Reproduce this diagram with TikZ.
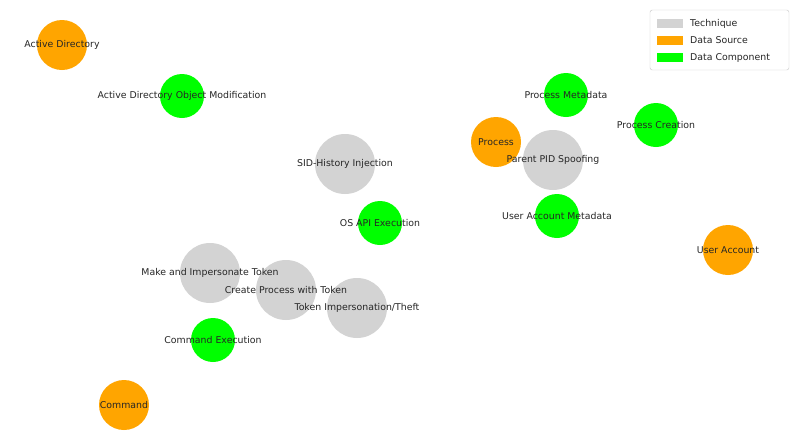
\documentclass[tikz,border=0pt]{standalone}
\usepackage{fontspec}
\setmainfont{DejaVu Sans}
\usetikzlibrary{backgrounds}
\definecolor{cgray}{RGB}{211,211,211}
\definecolor{corange}{RGB}{255,165,0}
\definecolor{cgreen}{RGB}{0,255,0}
\begin{document}
\begin{tikzpicture}[x=0.03cm,y=-0.03cm,
  tech/.style={circle,fill=cgray,minimum size=60*0.03cm,inner sep=0},
  src/.style={circle,fill=corange,minimum size=50*0.03cm,inner sep=0},
  comp/.style={circle,fill=cgreen,minimum size=44*0.03cm,inner sep=0},
  lab/.style={font=\fontsize{8}{9}\selectfont,text=black!85,inner sep=0},
  edge/.style={draw=black!70,line width=0.5pt}]
\useasboundingbox[fill=white] (0,0) rectangle (800,442);
\node[src] (ad) at (62,45) {};
\node[comp] (adom) at (182,96) {};
\node[tech] (sid) at (345,164) {};
\node[src] (proc) at (496,142) {};
\node[comp] (pmeta) at (566,95) {};
\node[tech] (ppid) at (553,160) {};
\node[comp] (pcre) at (656,125) {};
\node[comp] (uam) at (557,216) {};
\node[src] (ua) at (728,250) {};
\node[comp] (osapi) at (380,223) {};
\node[tech] (mit) at (210,273) {};
\node[tech] (cpt) at (286,290) {};
\node[tech] (tit) at (357,308) {};
\node[comp] (cexe) at (213,340) {};
\node[src] (cmd) at (124,405) {};
\begin{scope}[on background layer]
\foreach \a/\b in {ad/adom,adom/sid,sid/uam,uam/ua,proc/pmeta,proc/pcre,ppid/pmeta,ppid/pcre,ppid/osapi,proc/osapi,osapi/mit,osapi/cpt,osapi/tit,cexe/mit,cexe/cpt,cexe/tit,cmd/cexe}
  \draw[edge] (\a.center) -- (\b.center);
\end{scope}
\node[lab] (l1) at (ad) {Active Directory};
\node[lab] (l2) at (adom) {Active Directory Object Modification};
\node[lab] (l3) at (sid) {SID-History Injection};
\node[lab] (l4) at (proc) {Process};
\node[lab] (l5) at (pmeta) {Process Metadata};
\node[lab] (l6) at (ppid) {Parent PID Spoofing};
\node[lab] (l7) at (pcre) {Process Creation};
\node[lab] (l8) at (uam) {User Account Metadata};
\node[lab] (l9) at (ua) {User Account};
\node[lab] (l10) at (osapi) {OS API Execution};
\node[lab] (l11) at (mit) {Make and Impersonate Token};
\node[lab] (l12) at (cpt) {Create Process with Token};
\node[lab] (l13) at (tit) {Token Impersonation/Theft};
\node[lab] (l14) at (cexe) {Command Execution};
\node[lab] (l15) at (cmd) {Command};
% legend
\draw[draw=black!20,fill=white,rounded corners=2pt] (650,10) rectangle (789,70);
\fill[cgray] (657,19) rectangle (683,28);
\fill[corange] (657,36) rectangle (683,45);
\fill[cgreen] (657,53) rectangle (683,62);
\node[lab,anchor=west] (g1) at (690,23.5) {Technique};
\node[lab,anchor=west] (g2) at (690,40.5) {Data Source};
\node[lab,anchor=west] (g3) at (690,57.5) {Data Component};
\end{tikzpicture}
\end{document}
